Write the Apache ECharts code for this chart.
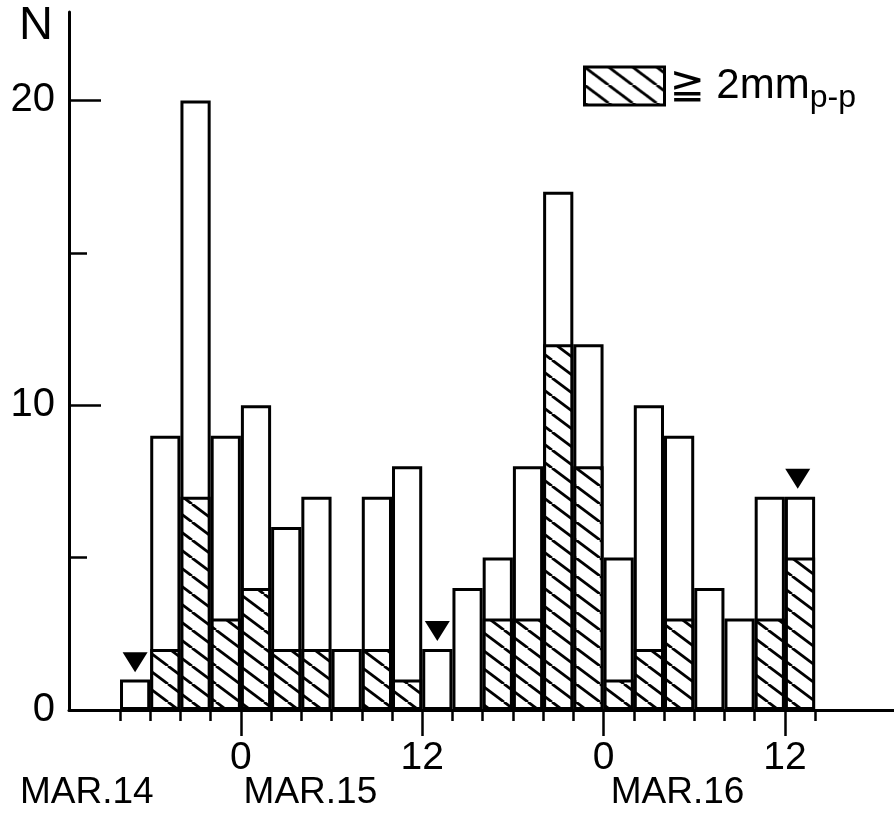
<!DOCTYPE html>
<html>
<head>
<meta charset="utf-8">
<script src="https://cdn.jsdelivr.net/npm/echarts@6/dist/echarts.min.js"></script>
<style>
  html, body { margin: 0; padding: 0; background: #fff; }
  #chart { width: 894px; height: 813px; }
</style>
</head>
<body>
<div id="chart"></div>
<script>
// 2-hour bins, hours counted from 0h of MAR.15
const binCenters = [-7, -5, -3, -1, 1, 3, 5, 7, 9, 11, 13, 15, 17, 19, 21, 23, 25, 27, 29, 31, 33, 35, 37]
const totalCounts = [1, 9, 20, 9, 10, 6, 7, 2, 7, 8, 2, 4, 5, 8, 17, 12, 5, 10, 9, 4, 3, 7, 7]
const hatchedCounts = [0, 2, 7, 3, 4, 2, 2, 0, 2, 1, 0, 0, 3, 3, 12, 8, 1, 2, 3, 0, 0, 3, 5]
const binEdges = [-8, -6, -4, -2, 0, 2, 4, 6, 8, 10, 12, 14, 16, 18, 20, 22, 24, 26, 28, 30, 32, 34, 36, 38]
const majorHours = [0, 12, 24, 36]
const dateLabels = ['MAR.14', 'MAR.15', 'MAR.16']
const dateLabelHours = [-10.2, 4.6, 28.9]
const markers = [[-7, 1.57], [13, 2.59], [36.85, 7.59]]
const yLabelValues = [0, 10, 20]
const yMajorTicks = [10, 20]
const yMinorTicks = [5, 15]

const hatchName = '≧ 2mm p-p'
const FONT = "'Liberation Sans', 'DejaVu Sans', 'Noto Sans CJK JP', sans-serif"

// diagonal hatch tile
const tile = document.createElement('canvas')
tile.width = 24
tile.height = 18
const ctx = tile.getContext('2d')
ctx.fillStyle = '#fff'
ctx.fillRect(0, 0, 24, 18)
ctx.strokeStyle = '#000'
ctx.lineWidth = 2.8
for (const dx of [-24, 0, 24]) {
    ctx.beginPath()
    ctx.moveTo(dx, 0)
    ctx.lineTo(dx + 24, 18)
    ctx.stroke()
}

const xMin = -11.375
const xMax = 43.22

const chart = echarts.init(document.getElementById('chart'))

const option = {
    animation: false,
    backgroundColor: '#fff',
    grid: { left: 69, right: 0, top: 12, bottom: 103, outerBoundsMode: 'none' },
    legend: {
        data: [hatchName],
        left: 578,
        top: 60,
        icon: 'rect',
        itemWidth: 80,
        itemHeight: 38,
        itemStyle: { borderColor: '#000', borderWidth: 3 },
        formatter: () => '{a|≧ 2mm}{b|p-p}',
        textStyle: {
            rich: {
                a: { fontFamily: FONT, fontSize: 42, color: '#000' },
                b: { fontFamily: FONT, fontSize: 32, color: '#000', padding: [24, 0, 0, 0] }
            }
        }
    },
    xAxis: [
        {
            type: 'value', min: xMin, max: xMax, position: 'bottom',
            splitLine: { show: false },
            axisLine: { show: true, onZero: false, lineStyle: { color: '#000', width: 3 } },
            axisTick: { show: true, customValues: binEdges, length: 11, lineStyle: { color: '#000', width: 2.5 } },
            axisLabel: { show: false }
        },
        {
            type: 'value', min: xMin, max: xMax, position: 'bottom',
            splitLine: { show: false },
            axisLine: { show: false, onZero: false },
            axisTick: { show: true, customValues: majorHours, length: 26, lineStyle: { color: '#000', width: 2.5 } },
            axisLabel: {
                show: true, customValues: majorHours, margin: 29,
                fontFamily: FONT, fontSize: 39, color: '#000',
                formatter: v => String(((v % 24) + 24) % 24)
            }
        },
        {
            type: 'value', min: xMin, max: xMax, position: 'bottom',
            splitLine: { show: false },
            axisLine: { show: false, onZero: false },
            axisTick: { show: false },
            axisLabel: {
                show: true, customValues: dateLabelHours, margin: 64,
                fontFamily: FONT, fontSize: 37, color: '#000',
                formatter: v => dateLabels[dateLabelHours.indexOf(v)]
            }
        }
    ],
    yAxis: [
        {
            type: 'value', min: 0, max: 22.9, position: 'left',
            name: 'N', nameLocation: 'end', nameGap: -38,
            nameTextStyle: { fontFamily: FONT, fontSize: 47, color: '#000', align: 'right', padding: [0, 16, 0, 0] },
            splitLine: { show: false },
            axisLine: { show: true, onZero: false, lineStyle: { color: '#000', width: 3 } },
            axisTick: { show: true, inside: true, customValues: yMajorTicks, length: 32, lineStyle: { color: '#000', width: 2.5 } },
            axisLabel: {
                show: true, customValues: yLabelValues, margin: 14,
                fontFamily: FONT, fontSize: 40, color: '#000'
            }
        },
        {
            type: 'value', min: 0, max: 22.9, position: 'left',
            splitLine: { show: false },
            axisLine: { show: false, onZero: false },
            axisTick: { show: true, inside: true, customValues: yMinorTicks, length: 18, lineStyle: { color: '#000', width: 2.5 } },
            axisLabel: { show: false }
        }
    ],
    series: [
        {
            name: 'N',
            type: 'bar',
            xAxisIndex: 0,
            yAxisIndex: 0,
            barWidth: 30.2,
            barGap: '-100%',
            itemStyle: { color: '#fff', borderColor: '#000', borderWidth: 3 },
            data: binCenters.map((h, i) => [h, totalCounts[i]]),
            z: 2
        },
        {
            name: hatchName,
            type: 'bar',
            xAxisIndex: 0,
            yAxisIndex: 0,
            barWidth: 30.2,
            barGap: '-100%',
            itemStyle: { color: { image: tile, repeat: 'repeat' }, borderColor: '#000', borderWidth: 3 },
            data: binCenters.map((h, i) => [h, hatchedCounts[i] > 0 ? hatchedCounts[i] : null]),
            z: 3
        },
        {
            name: 'marker',
            type: 'scatter',
            xAxisIndex: 0,
            yAxisIndex: 0,
            symbol: 'triangle',
            symbolRotate: 180,
            symbolSize: [25, 20],
            itemStyle: { color: '#000', opacity: 1 },
            data: markers,
            z: 4
        }
    ]
}

chart.setOption(option)
</script>
</body>
</html>
